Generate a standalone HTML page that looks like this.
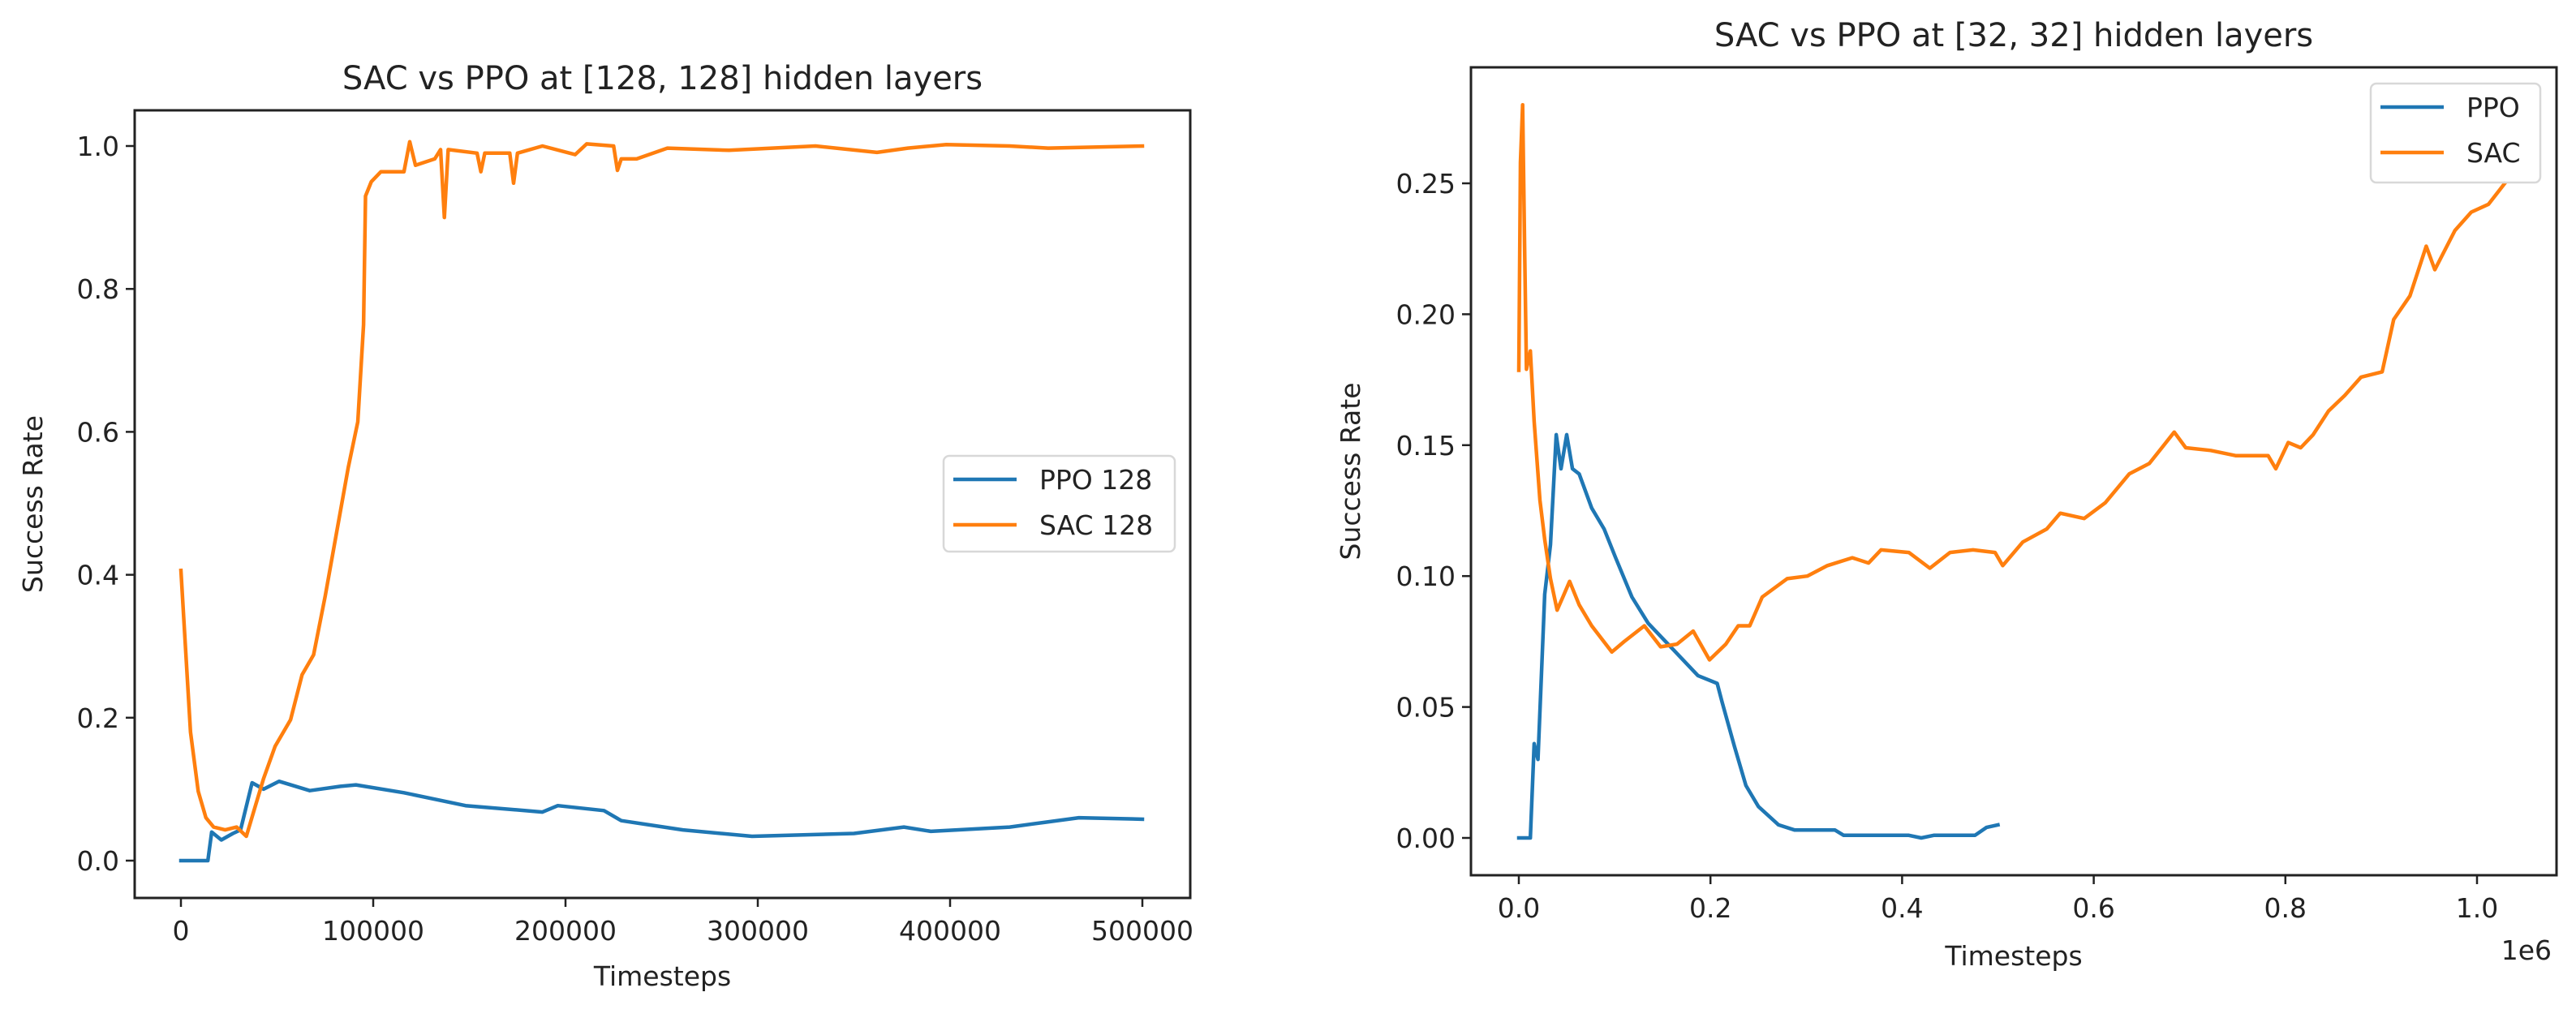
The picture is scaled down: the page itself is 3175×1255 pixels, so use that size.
<!DOCTYPE html>
<html><head><meta charset="utf-8">
<style>
html,body{margin:0;padding:0;background:#fff;}
svg{display:block;font-family:"DejaVu Sans","Liberation Sans",sans-serif;}
</style></head>
<body>
<svg id="fig" width="3175" height="1255" viewBox="0 0 3175 1255" xmlns="http://www.w3.org/2000/svg">
<rect width="3175" height="1255" fill="#fff"/>
<g id="left"></g>
<g id="right"></g>
</svg>
<script>
// ---- Left chart data ----
const leftXTicks = [0, 100000, 200000, 300000, 400000, 500000];
const leftXTickLabels = ["0", "100000", "200000", "300000", "400000", "500000"];
const leftYTicks = [0, 0.2, 0.4, 0.6, 0.8, 1.0];
const leftYTickLabels = ["0.0", "0.2", "0.4", "0.6", "0.8", "1.0"];
const leftSacX = [0,1.6,5,9,13,17,23,29,34,39,43,49,57,63,69,75,81,87,92,95,96,99,104,116,119,122,132,135,137,139,154,156,158,171,173,175,188,205,211,225,227,229,237,253,285,330,362,378,398,431,451,500];
const leftSacY = [0.406,0.333,0.18,0.097,0.06,0.047,0.043,0.047,0.034,0.079,0.115,0.16,0.197,0.26,0.288,0.37,0.46,0.55,0.614,0.75,0.93,0.95,0.964,0.964,1.006,0.973,0.982,0.995,0.90,0.995,0.99,0.964,0.99,0.99,0.948,0.99,1.0,0.988,1.003,1.0,0.966,0.982,0.982,0.997,0.994,1.0,0.991,0.997,1.002,1.0,0.997,1.0];
const leftPpoX = [0,14,16,21,27,31,37,43,51,67,83,91,116,148,188,196,220,229,261,297,350,376,390,431,467,500];
const leftPpoY = [0,0,0.04,0.029,0.038,0.043,0.109,0.1,0.111,0.098,0.104,0.106,0.095,0.077,0.068,0.077,0.07,0.056,0.043,0.034,0.038,0.047,0.041,0.047,0.06,0.058];

// ---- Right chart data ----
const rightXTicks = [0, 0.2, 0.4, 0.6, 0.8, 1.0];
const rightXTickLabels = ["0.0", "0.2", "0.4", "0.6", "0.8", "1.0"];
const rightYTicks = [0, 0.05, 0.10, 0.15, 0.20, 0.25];
const rightYTickLabels = ["0.00", "0.05", "0.10", "0.15", "0.20", "0.25"];
const rightSacX = [0,0.0017,0.004,0.006,0.008,0.012,0.016,0.022,0.027,0.033,0.04,0.046,0.053,0.063,0.076,0.097,0.11,0.131,0.148,0.165,0.182,0.199,0.216,0.229,0.241,0.254,0.28,0.301,0.322,0.348,0.365,0.378,0.407,0.429,0.45,0.474,0.497,0.505,0.526,0.551,0.565,0.59,0.612,0.637,0.658,0.684,0.696,0.722,0.748,0.782,0.79,0.803,0.816,0.829,0.845,0.862,0.879,0.901,0.913,0.93,0.947,0.956,0.977,0.994,1.012,1.029];
const rightSacY = [0.1786,0.258,0.280,0.226,0.179,0.186,0.159,0.129,0.114,0.099,0.087,0.092,0.098,0.089,0.081,0.071,0.075,0.081,0.073,0.074,0.079,0.068,0.074,0.081,0.081,0.092,0.099,0.100,0.104,0.107,0.105,0.110,0.109,0.103,0.109,0.110,0.109,0.104,0.113,0.118,0.124,0.122,0.128,0.139,0.143,0.155,0.149,0.148,0.146,0.146,0.141,0.151,0.149,0.154,0.163,0.169,0.176,0.178,0.198,0.207,0.226,0.217,0.232,0.239,0.242,0.25];
const rightPpoX = [0,0.012,0.016,0.020,0.027,0.033,0.039,0.044,0.05,0.056,0.063,0.076,0.089,0.101,0.118,0.135,0.161,0.187,0.207,0.212,0.225,0.237,0.25,0.271,0.288,0.33,0.339,0.407,0.42,0.433,0.476,0.488,0.5];
const rightPpoY = [0,0,0.036,0.030,0.093,0.112,0.154,0.141,0.154,0.141,0.139,0.126,0.118,0.107,0.092,0.082,0.072,0.062,0.059,0.052,0.035,0.02,0.012,0.005,0.003,0.003,0.001,0.001,0.0,0.001,0.001,0.004,0.005];

const NS = "http://www.w3.org/2000/svg";
function mk(parent, tag, attrs, text) {
  const el = document.createElementNS(NS, tag);
  for (const k in attrs) el.setAttribute(k, attrs[k]);
  if (text !== undefined) el.textContent = text;
  parent.appendChild(el);
  return el;
}
const BLUE = "#1f77b4", ORANGE = "#ff7f0e", TXT = "#222";

function drawChart(g, cfg) {
  const sx = v => cfg.x0px + (v - cfg.xv0) * cfg.xScale;
  const sy = v => cfg.y0px - v * cfg.yScale;
  // title
  const t = mk(g, "text", {x: (cfg.L + cfg.R) / 2, y: cfg.titleY, "text-anchor": "middle", "font-size": 40, fill: TXT}, cfg.title);
  
  
  // series
  cfg.series.forEach(s => {
    let d = "";
    s.xs.forEach((xv, i) => { d += (i ? "L" : "M") + sx(xv).toFixed(1) + " " + sy(s.ys[i]).toFixed(1); });
    const p = mk(g, "path", {d: d, fill: "none", stroke: s.color, "stroke-width": 4.5, "stroke-linejoin": "round", "stroke-linecap": "square"});
    
    
  });
  // axes frame
  const f = mk(g, "rect", {x: cfg.L, y: cfg.T, width: cfg.R - cfg.L, height: cfg.B - cfg.T, fill: "none", stroke: "#222", "stroke-width": 3});
  
  
  // x ticks
  cfg.xTicks.forEach((v, i) => {
    const x = sx(v);
    const tk = mk(g, "line", {x1: x, x2: x, y1: cfg.B, y2: cfg.B + 11, stroke: "#222", "stroke-width": 2.5});
    
    
    const lb = mk(g, "text", {x: x, y: cfg.B + 52, "text-anchor": "middle", "font-size": 33, fill: TXT}, cfg.xLabels[i]);
    
    
  });
  // y ticks
  cfg.yTicks.forEach((v, i) => {
    const y = sy(v);
    const tk = mk(g, "line", {x1: cfg.L - 11, x2: cfg.L, y1: y, y2: y, stroke: "#222", "stroke-width": 2.5});
    
    
    const lb = mk(g, "text", {x: cfg.L - 19, y: y + 12, "text-anchor": "end", "font-size": 33, fill: TXT}, cfg.yLabels[i]);
    
    
  });
  // axis titles
  const xl = mk(g, "text", {x: (cfg.L + cfg.R) / 2, y: cfg.xTitleY, "text-anchor": "middle", "font-size": 33, fill: TXT}, "Timesteps");
  
  
  const cy = (cfg.T + cfg.B) / 2;
  const yl = mk(g, "text", {x: cfg.yTitleX, y: cy, "text-anchor": "middle", "font-size": 33, fill: TXT, transform: "rotate(-90 " + cfg.yTitleX + " " + cy + ")"}, "Success Rate");
  
  
  if (cfg.offset) {
    const o = mk(g, "text", {x: cfg.R - 6, y: cfg.offsetY, "text-anchor": "end", "font-size": 33, fill: TXT}, cfg.offset);
    
    
  }
  // legend
  const lg = cfg.legend;
  const box = mk(g, "rect", {x: lg.x, y: lg.y, width: lg.w, height: lg.h, rx: 7, fill: "#fff", "fill-opacity": 0.85, stroke: "#d8d8d8", "stroke-width": 2.5});
  
  
  cfg.series.forEach((s, i) => {
    const ly = lg.y + 29 + i * 56;
    const ln = mk(g, "line", {x1: lg.x + 12, x2: lg.x + 90, y1: ly, y2: ly, stroke: s.color, "stroke-width": 4.5});
    
    
    const tx = mk(g, "text", {x: lg.x + 118, y: ly + 12, "font-size": 33, fill: TXT}, s.label);
    
    
  });
}

drawChart(document.getElementById("left"), {
  L: 166, R: 1467, T: 136, B: 1107,
  x0px: 223, xv0: 0, xScale: (1408 - 223) / 500,
  y0px: 1061, yScale: 881,
  title: "SAC vs PPO at [128, 128] hidden layers", titleY: 110,
  xTicks: leftXTicks.map(v => v / 1000), xLabels: leftXTickLabels,
  yTicks: leftYTicks, yLabels: leftYTickLabels,
  xTitleY: 1215, yTitleX: 52,
  series: [
    {name: "ppo-128-line", label: "PPO 128", color: BLUE, xs: leftPpoX, ys: leftPpoY},
    {name: "sac-128-line", label: "SAC 128", color: ORANGE, xs: leftSacX, ys: leftSacY}
  ],
  legend: {x: 1163, y: 562, w: 285, h: 118}
});

drawChart(document.getElementById("right"), {
  L: 1813, R: 3151, T: 83, B: 1079,
  x0px: 1872, xv0: 0, xScale: 1181,
  y0px: 1033, yScale: 3228,
  title: "SAC vs PPO at [32, 32] hidden layers", titleY: 57,
  xTicks: rightXTicks, xLabels: rightXTickLabels,
  yTicks: rightYTicks, yLabels: rightYTickLabels,
  xTitleY: 1190, yTitleX: 1676,
  offset: "1e6", offsetY: 1183,
  series: [
    {name: "ppo-line", label: "PPO", color: BLUE, xs: rightPpoX, ys: rightPpoY},
    {name: "sac-line", label: "SAC", color: ORANGE, xs: rightSacX, ys: rightSacY}
  ],
  legend: {x: 2922, y: 103, w: 209, h: 122}
});
</script>
</body></html>
